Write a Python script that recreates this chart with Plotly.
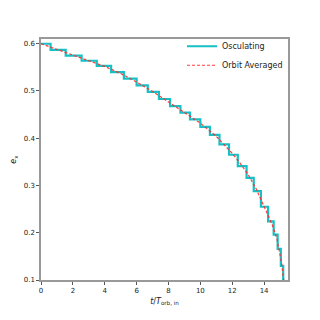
import plotly.graph_objects as go

# orbit averaged eccentricity
t_avg = [0, 1, 2, 3, 4, 5, 6, 7, 8, 9, 10, 11, 12, 12.5, 13, 13.5, 14, 14.5, 14.8, 15.0, 15.1, 15.2, 15.24]
e_avg = [0.600, 0.588, 0.576, 0.564, 0.552, 0.537, 0.519, 0.499, 0.477, 0.455, 0.432, 0.404, 0.368,
         0.347, 0.323, 0.293, 0.257, 0.218, 0.188, 0.158, 0.136, 0.106, 0.100]

# osculating: plateau start times and plateau levels (steps at each pericentre)
t_osc = [0, 0.6, 1.55, 2.55, 3.5, 4.4, 5.2, 6.0, 6.7, 7.4, 8.1, 8.75, 9.35, 10.0, 10.6, 11.2, 11.8,
         12.35, 12.9, 13.35, 13.8, 14.25, 14.6, 14.85, 15.05, 15.2, 15.25]
e_osc = [0.600, 0.587, 0.575, 0.564, 0.553, 0.540, 0.526, 0.512, 0.498, 0.483, 0.468, 0.454, 0.440,
         0.424, 0.407, 0.387, 0.365, 0.341, 0.316, 0.288, 0.255, 0.224, 0.196, 0.166, 0.130, 0.100, 0.100]

x_ticks = [0, 2, 4, 6, 8, 10, 12, 14]
y_ticks = [0.1, 0.2, 0.3, 0.4, 0.5, 0.6]

fig = go.Figure()
fig.add_trace(go.Scatter(x=t_osc, y=e_osc, mode='lines', line=dict(color='#17c0c4', width=2.2, shape='hv'),
                         name='Osculating'))
fig.add_trace(go.Scatter(x=t_avg, y=e_avg, mode='lines', line=dict(color='rgba(255,40,40,0.9)', width=1.2, dash='3px,2px'),
                         name='Orbit Averaged'))

axis_style = dict(showgrid=False, zeroline=False, showline=True, linecolor='#999', linewidth=1.5, mirror=True,
                  ticks='outside', ticklen=3, tickwidth=1, tickcolor='#555', automargin=False,
                  tickfont=dict(family='DejaVu Sans', size=7, color='#222'))

fig.update_layout(
    width=320, height=320,
    margin=dict(l=33, r=40, t=31, b=48),
    plot_bgcolor='white', paper_bgcolor='white',
    showlegend=True,
    legend=dict(x=1.0, y=1.03, xanchor='right', yanchor='top', bgcolor='rgba(0,0,0,0)',
                font=dict(family='DejaVu Sans', size=8, color='#222'), tracegroupgap=0, itemwidth=30),
    xaxis=dict(range=[0, 15.5], tickvals=x_ticks, title=dict(text='<i>t</i>/<i>T</i><sub>orb, in</sub>', standoff=4,
               font=dict(family='DejaVu Sans', size=8, color='#222')), **axis_style),
    yaxis=dict(range=[0.1, 0.61], tickvals=y_ticks, tickformat='.1f', title=dict(text='<i>e</i><sub>x</sub>', standoff=6,
               font=dict(family='DejaVu Sans', size=8, color='#222')), **axis_style),
)

fig.write_html("out.html")
